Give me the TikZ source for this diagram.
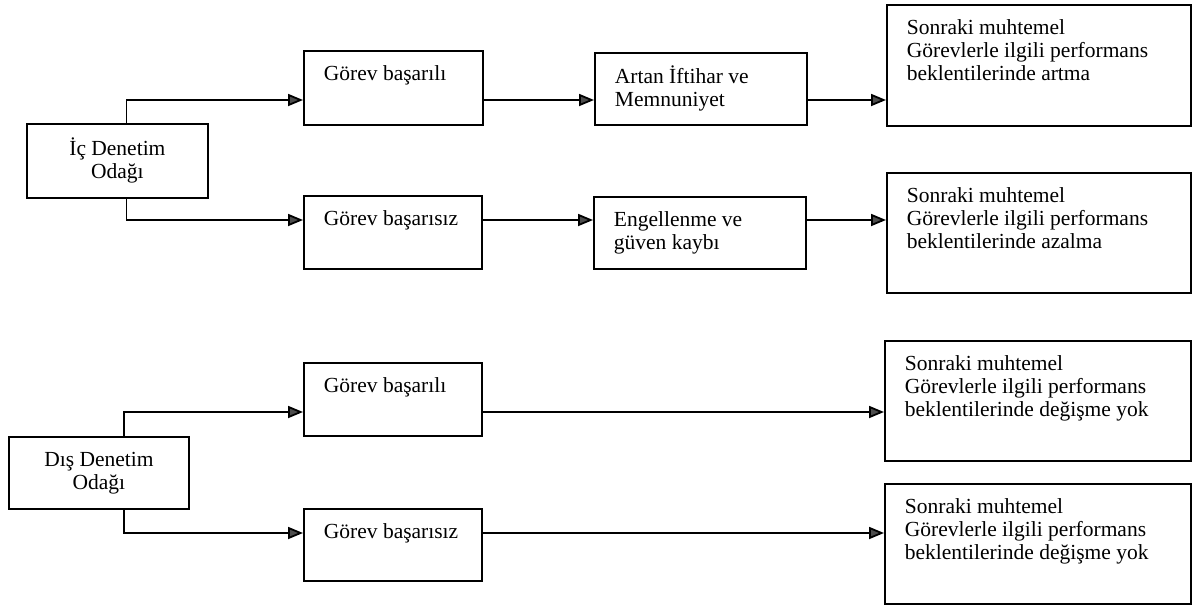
\documentclass[tikz,border=0pt]{standalone}
\usepackage{fontspec}
\setmainfont{Liberation Serif}
\usetikzlibrary{arrows.meta}
\newcommand{\boxtext}[3]{\parbox[c][\dimexpr#2pt-26pt\relax][t]{\dimexpr#1pt-40pt\relax}{\strut #3}}

\begin{document}
\begin{tikzpicture}[x=1pt, y=-1pt,
        font=\fontsize{21.5}{23}\selectfont,
        stage/.style={draw, line width=1.8pt, anchor=north west, inner xsep=20pt, inner ysep=13pt, align=left},
        focus/.style={draw, line width=1.8pt, anchor=north west, inner sep=0pt, align=center},
        conn/.style={line width=1.8pt, -{Triangle[length=15pt, width=12pt, fill=black!70]}}]
    \useasboundingbox (0,0) rectangle (1197,606);
    \coordinate (r1) at (0,100);
    \coordinate (r2) at (0,220);
    \coordinate (r3) at (0,412);
    \coordinate (r4) at (0,533);
    \node[focus, minimum width=181pt, minimum height=74pt] (ic) at (26,123) {İç Denetim\\Odağı};
    \node[stage] (g1) at (303,50) {\boxtext{179}{74}{Görev başarılı}};
    \node[stage] (artan) at (594,52) {\boxtext{212}{72}{Artan İftihar ve\\Memnuniyet}};
    \node[stage] (s1) at (886,4) {\boxtext{304}{121}{Sonraki muhtemel\\Görevlerle ilgili performans\\beklentilerinde artma}};
    \node[stage] (g2) at (303,195) {\boxtext{178}{73}{Görev başarısız}};
    \node[stage] (eng) at (593,196) {\boxtext{212}{72}{Engellenme ve\\güven kaybı}};
    \node[stage] (s2) at (886,172) {\boxtext{304}{120}{Sonraki muhtemel\\Görevlerle ilgili performans\\beklentilerinde azalma}};
    \node[focus, minimum width=180pt, minimum height=72pt] (dis) at (8,436) {Dış Denetim\\Odağı};
    \node[stage] (g3) at (303,362) {\boxtext{178}{73}{Görev başarılı}};
    \node[stage] (s3) at (884,340) {\boxtext{306}{120}{Sonraki muhtemel\\Görevlerle ilgili performans\\beklentilerinde değişme yok}};
    \node[stage] (g4) at (303,508) {\boxtext{178}{72}{Görev başarısız}};
    \node[stage] (s4) at (884,483) {\boxtext{306}{120}{Sonraki muhtemel\\Görevlerle ilgili performans\\beklentilerinde değişme yok}};
    \draw[conn] ([xshift=9pt]ic.north) |- (g1.west |- r1);
    \draw[conn] ([xshift=9pt]ic.south) |- (g2.west |- r2);
    \draw[conn] (g1.east |- r1) -- (artan.west |- r1);
    \draw[conn] (artan.east |- r1) -- (s1.west |- r1);
    \draw[conn] (g2.east |- r2) -- (eng.west |- r2);
    \draw[conn] (eng.east |- r2) -- (s2.west |- r2);
    \draw[conn] ([xshift=25pt]dis.north) |- (g3.west |- r3);
    \draw[conn] ([xshift=25pt]dis.south) |- (g4.west |- r4);
    \draw[conn] (g3.east |- r3) -- (s3.west |- r3);
    \draw[conn] (g4.east |- r4) -- (s4.west |- r4);
\end{tikzpicture}
\end{document}
